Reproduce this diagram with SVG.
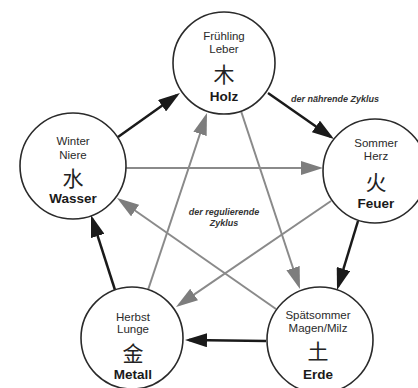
<svg xmlns="http://www.w3.org/2000/svg" width="418" height="388" viewBox="0 0 418 388">
<style>
.node{fill:#fff;stroke:#2a2a2a;stroke-width:1.6}
.t{font-family:"Liberation Sans",Arial,sans-serif;font-size:11.5px;fill:#2a2a2a;text-anchor:middle}
.n{font-family:"Liberation Sans",Arial,sans-serif;font-size:13.5px;font-weight:bold;fill:#1a1a1a;text-anchor:middle}
.k{font-family:"Noto Sans CJK SC","Noto Sans CJK JP",sans-serif;font-size:21px;fill:#222;text-anchor:middle}
.lbl{font-family:"Liberation Sans",Arial,sans-serif;font-size:9px;font-weight:bold;font-style:italic;fill:#333;text-anchor:middle}
.blk{stroke:#1a1a1a;stroke-width:2.5;fill:none;marker-end:url(#ab)}
.gry{stroke:#8a8a8a;stroke-width:2;fill:none;marker-end:url(#ag)}
</style>
<defs>
<marker id="ab" markerUnits="userSpaceOnUse" markerWidth="22" markerHeight="14" refX="18" refY="7" orient="auto"><path d="M0,0 L22,7 L0,14 z" fill="#1a1a1a"/></marker>
<marker id="ag" markerUnits="userSpaceOnUse" markerWidth="22" markerHeight="14" refX="18" refY="7" orient="auto"><path d="M0,0 L22,7 L0,14 z" fill="#7d7d7d"/></marker>
</defs>
<rect width="418" height="388" fill="#fff"/>
<g id="connectors">
<line class="blk" x1="118" y1="137" x2="176.7" y2="95.3"/>
<line class="blk" x1="268" y1="93" x2="330.7" y2="136.7"/>
<line class="blk" x1="358" y1="221" x2="338.2" y2="286.2"/>
<line class="blk" x1="266" y1="341" x2="189" y2="340"/>
<line class="blk" x1="115" y1="290" x2="92.2" y2="218.8"/>
<line class="gry" x1="241" y1="111" x2="298.7" y2="285.2"/>
<line class="gry" x1="276" y1="309" x2="120.3" y2="200.3"/>
<line class="gry" x1="126" y1="168" x2="319" y2="168"/>
<line class="gry" x1="331" y1="201" x2="179.3" y2="304.7"/>
<line class="gry" x1="148" y1="290" x2="205.7" y2="116.8"/>
<text class="lbl" x="335" y="102">der nährende Zyklus</text>
<text class="lbl" x="224" y="215">der regulierende</text>
<text class="lbl" x="224" y="226">Zyklus</text>
</g>
<g id="holz">
<circle class="node" cx="224" cy="63" r="51"/>
<text class="t" x="224" y="40">Frühling</text>
<text class="t" x="224" y="53">Leber</text>
<text class="k" x="224" y="82">木</text>
<text class="n" x="224" y="101">Holz</text>
</g>
<g id="feuer">
<circle class="node" cx="375" cy="171" r="52"/>
<text class="t" x="376" y="147">Sommer</text>
<text class="t" x="376" y="160">Herz</text>
<text class="k" x="376" y="190">火</text>
<text class="n" x="376" y="208">Feuer</text>
</g>
<g id="wasser">
<circle class="node" cx="73" cy="166" r="53"/>
<text class="t" x="73" y="145">Winter</text>
<text class="t" x="73" y="159">Niere</text>
<text class="k" x="73" y="186">水</text>
<text class="n" x="73" y="203">Wasser</text>
</g>
<g id="metall">
<circle class="node" cx="132" cy="338" r="51"/>
<text class="t" x="133" y="321">Herbst</text>
<text class="t" x="133" y="333">Lunge</text>
<text class="k" x="133" y="361">金</text>
<text class="n" x="133" y="379">Metall</text>
</g>
<g id="erde">
<circle class="node" cx="320" cy="340" r="53"/>
<text class="t" x="318" y="319">Spätsommer</text>
<text class="t" x="318" y="332">Magen/Milz</text>
<text class="k" x="318" y="359">土</text>
<text class="n" x="318" y="379">Erde</text>
</g>
</svg>
